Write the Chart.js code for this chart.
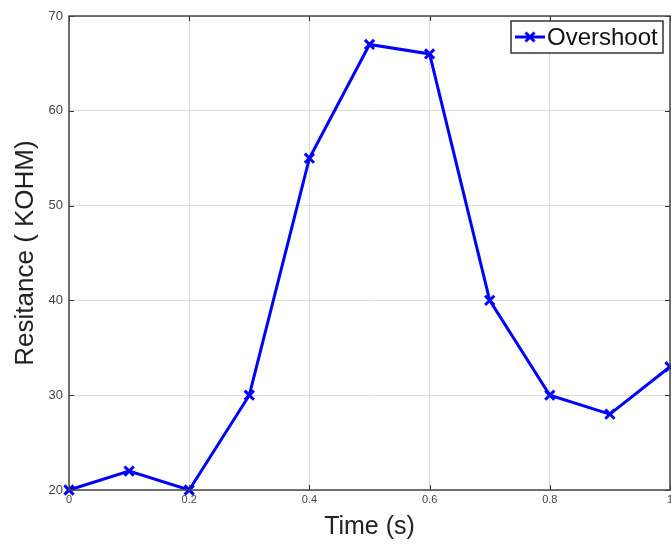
<!DOCTYPE html>
<html><head><meta charset="utf-8">
<script src="https://cdn.jsdelivr.net/npm/chart.js@4"></script>
<style>html,body{margin:0;padding:0;background:#fff}#wrap{width:671px;height:544px}</style>
</head><body><div id="wrap"><canvas id="c" width="671" height="544"></canvas></div>
<script>
const timeValues = [0, 0.1, 0.2, 0.3, 0.4, 0.5, 0.6, 0.7, 0.8, 0.9, 1.0];
const overshoot = [20, 22, 20, 30, 55, 67, 66, 40, 30, 28, 33];
const seriesName = 'Overshoot';
const xTicks = [0, 0.2, 0.4, 0.6, 0.8, 1];
const xTickLabels = ['0', '0.2', '0.4', '0.6', '0.8', '1'];
const yTicks = [20, 30, 40, 50, 60, 70];
const xTitle = 'Time (s)';
const yTitle = 'Resitance ( KOHM)';

const FONT = '"Liberation Sans", Arial, sans-serif';

const framePlugin = {
  id: 'frame',
  afterDraw(chart) {
    const {ctx, chartArea: a, scales: {x, y}} = chart;
    ctx.save();
    // x tick labels
    ctx.fillStyle = '#444';
    ctx.font = '11px ' + FONT;
    ctx.textAlign = 'center';
    ctx.textBaseline = 'top';
    xTicks.forEach((v, i) => {
      ctx.fillText(xTickLabels[i], x.getPixelForValue(v), a.bottom + 4);
    });
    // inward ticks
    ctx.strokeStyle = '#333';
    ctx.lineWidth = 1;
    xTicks.forEach(v => {
      const px = Math.round(x.getPixelForValue(v)) + 0.5;
      ctx.beginPath(); ctx.moveTo(px, a.bottom); ctx.lineTo(px, a.bottom - 5); ctx.stroke();
      ctx.beginPath(); ctx.moveTo(px, a.top); ctx.lineTo(px, a.top + 5); ctx.stroke();
    });
    yTicks.forEach(v => {
      const py = Math.round(y.getPixelForValue(v)) + 0.5;
      ctx.beginPath(); ctx.moveTo(a.left, py); ctx.lineTo(a.left + 5, py); ctx.stroke();
      ctx.beginPath(); ctx.moveTo(a.right, py); ctx.lineTo(a.right - 5, py); ctx.stroke();
    });
    ctx.strokeStyle = '#444';
    ctx.lineWidth = 1.5;
    ctx.strokeRect(a.left, a.top, a.right - a.left, a.bottom - a.top);
    // legend box
    const bx = 511, by = 21, bw = 152, bh = 32;
    ctx.fillStyle = '#fff';
    ctx.fillRect(bx, by, bw, bh);
    ctx.strokeStyle = '#333';
    ctx.lineWidth = 1.5;
    ctx.strokeRect(bx, by, bw, bh);
    const ly = by + bh / 2;
    ctx.strokeStyle = '#0000ff';
    ctx.lineWidth = 3;
    ctx.beginPath(); ctx.moveTo(bx + 4, ly); ctx.lineTo(bx + 34, ly); ctx.stroke();
    const mx = bx + 19, r = 4.5;
    ctx.beginPath();
    ctx.moveTo(mx - r, ly - r); ctx.lineTo(mx + r, ly + r);
    ctx.moveTo(mx + r, ly - r); ctx.lineTo(mx - r, ly + r);
    ctx.stroke();
    ctx.fillStyle = '#111';
    ctx.font = '24px ' + FONT;
    ctx.textBaseline = 'middle';
    ctx.textAlign = 'left';
    ctx.fillText(seriesName, bx + 36, ly + 1);
    ctx.restore();
  }
};

new Chart(document.getElementById('c'), {
  type: 'line',
  data: {
    labels: timeValues,
    datasets: [{
      label: seriesName,
      data: timeValues.map((t, i) => ({x: t, y: overshoot[i]})),
      borderColor: '#0000ff',
      backgroundColor: '#0000ff',
      borderWidth: 3,
      pointStyle: 'crossRot',
      pointRadius: 6.5,
      pointBorderWidth: 3,
      pointBorderColor: '#0000ff',
      tension: 0,
      clip: 6
    }]
  },
  options: {
    responsive: false,
    animation: false,
    devicePixelRatio: 1,
    layout: {autoPadding: false, padding: {top: 16, right: 1, left: 0, bottom: 0}},
    plugins: {legend: {display: false}, tooltip: {enabled: false}},
    scales: {
      x: {
        type: 'linear', min: 0, max: 1,
        afterBuildTicks: s => { s.ticks = xTicks.map(v => ({value: v})); },
        afterFit: s => { s.height = 54; s.paddingLeft = 0; s.paddingRight = 0; },
        grid: {color: '#dcdcdc', lineWidth: 1, drawTicks: false},
        border: {display: false},
        ticks: {display: false},
        title: {display: true, text: xTitle, color: '#222', font: {family: FONT, size: 25}, padding: {top: 0, bottom: 2}}
      },
      y: {
        min: 20, max: 70,
        afterBuildTicks: s => { s.ticks = yTicks.map(v => ({value: v})); },
        afterFit: s => { s.width = 69; s.paddingTop = 0; s.paddingBottom = 0; },
        grid: {color: '#dcdcdc', lineWidth: 1, drawTicks: false},
        border: {display: false},
        ticks: {padding: 6, color: '#444', font: {family: FONT, size: 13}},
        title: {display: true, text: yTitle, color: '#222', font: {family: FONT, size: 26}, padding: {top: 10, bottom: 4}}
      }
    }
  },
  plugins: [framePlugin]
});
</script>
</body></html>
